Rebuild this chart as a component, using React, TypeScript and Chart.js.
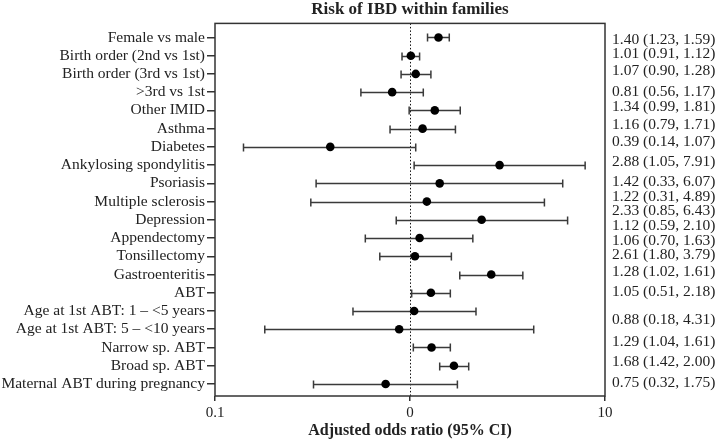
import React, { useEffect, useRef } from "react";
import { Chart, registerables } from "chart.js";

Chart.register(...registerables);

const categories = [
  "Female vs male",
  "Birth order (2nd vs 1st)",
  "Birth order (3rd vs 1st)",
  ">3rd vs 1st",
  "Other IMID",
  "Asthma",
  "Diabetes",
  "Ankylosing spondylitis",
  "Psoriasis",
  "Multiple sclerosis",
  "Depression",
  "Appendectomy",
  "Tonsillectomy",
  "Gastroenteritis",
  "ABT",
  "Age at 1st ABT: 1 \u2013 <5 years",
  "Age at 1st ABT: 5 \u2013 <10 years",
  "Narrow sp. ABT",
  "Broad sp. ABT",
  "Maternal ABT during pregnancy",
];

const oddsRatio = [1.40, 1.01, 1.07, 0.81, 1.34, 1.16, 0.39, 2.88, 1.42, 1.22, 2.33, 1.12, 1.06, 2.61, 1.28, 1.05, 0.88, 1.29, 1.68, 0.75];
const ciLow = [1.23, 0.91, 0.90, 0.56, 0.99, 0.79, 0.14, 1.05, 0.33, 0.31, 0.85, 0.59, 0.70, 1.80, 1.02, 0.51, 0.18, 1.04, 1.42, 0.32];
const ciHigh = [1.59, 1.12, 1.28, 1.17, 1.81, 1.71, 1.07, 7.91, 6.07, 4.89, 6.43, 2.10, 1.63, 3.79, 1.61, 2.18, 4.31, 1.61, 2.00, 1.75];

// row position (in row units) of each annotation text in the right-hand column
const ciTextRow = [0.16, 0.88, 1.86, 2.96, 3.83, 4.82, 5.75, 6.85, 7.94, 8.75, 9.52, 10.35, 11.15, 11.9, 12.85, 13.95, 15.5, 16.7, 17.8, 18.95];

const xTickValues = [0.1, 1, 10];
const xTickLabels = ["0.1", "0", "10"];

const titleText = "Risk of IBD within families";
const xTitleText = "Adjusted odds ratio (95% CI)";

const FONT = "'Liberation Serif', 'Times New Roman', serif";
const INK = "#222";
const LINE = "#333";

const ciText = oddsRatio.map(
  (v, i) => `${v.toFixed(2)} (${ciLow[i].toFixed(2)}, ${ciHigh[i].toFixed(2)})`
);

const forestPlugin = {
  id: "forest",
  beforeDatasetsDraw(chart: any) {
    const { ctx, chartArea, scales } = chart;
    const x = scales.x;
    const y = scales.y;
    ctx.save();
    const x1 = Math.round(x.getPixelForValue(1)) + 0.5;
    ctx.strokeStyle = "#111";
    ctx.lineWidth = 1;
    ctx.setLineDash([1.5, 2]);
    ctx.beginPath();
    ctx.moveTo(x1, chartArea.top);
    ctx.lineTo(x1, chartArea.bottom);
    ctx.stroke();
    ctx.setLineDash([]);
    ctx.strokeStyle = "#3a3a3a";
    ctx.lineWidth = 1.5;
    categories.forEach((_, i) => {
      const py = Math.round(y.getPixelForValue(i)) + 0.5;
      const xl = x.getPixelForValue(ciLow[i]);
      const xh = x.getPixelForValue(ciHigh[i]);
      ctx.beginPath();
      ctx.moveTo(xl, py);
      ctx.lineTo(xh, py);
      ctx.moveTo(xl, py - 4);
      ctx.lineTo(xl, py + 4);
      ctx.moveTo(xh, py - 4);
      ctx.lineTo(xh, py + 4);
      ctx.stroke();
    });
    ctx.restore();
  },
  afterDraw(chart: any) {
    const { ctx, chartArea, scales } = chart;
    const y = scales.y;
    ctx.save();
    ctx.strokeStyle = LINE;
    ctx.lineWidth = 1.5;
    ctx.strokeRect(chartArea.left, chartArea.top, chartArea.right - chartArea.left, chartArea.bottom - chartArea.top);
    ctx.fillStyle = INK;
    ctx.font = `bold 17px ${FONT}`;
    ctx.textAlign = "center";
    ctx.textBaseline = "middle";
    ctx.fillText(titleText, (chartArea.left + chartArea.right) / 2, 10);
    ctx.font = `15.5px ${FONT}`;
    ctx.textAlign = "left";
    ciText.forEach((t, i) => {
      ctx.fillText(t, chartArea.right + 7, y.getPixelForValue(ciTextRow[i]));
    });
    ctx.restore();
  },
};

export default function App() {
  const ref = useRef<HTMLCanvasElement | null>(null);

  useEffect(() => {
    document.body.style.margin = "0";
    const canvas = ref.current;
    if (!canvas) return;
    const chart = new Chart(canvas, {
      type: "scatter",
      data: {
        datasets: [
          {
            data: oddsRatio.map((v, i) => ({ x: v, y: i })),
            pointRadius: 4.3,
            pointHoverRadius: 4.3,
            backgroundColor: "#000",
            borderColor: "#000",
            borderWidth: 0,
          },
        ],
      },
      options: {
        animation: false,
        responsive: false,
        devicePixelRatio: 1,
        layout: { padding: { left: 0, right: 113, top: 23.4, bottom: 0 } },
        plugins: {
          legend: { display: false },
          tooltip: { enabled: false },
          title: { display: false },
        },
        scales: {
          x: {
            type: "logarithmic",
            min: 0.1,
            max: 10,
            afterBuildTicks: (scale: any) => {
              scale.ticks = xTickValues.map((v) => ({ value: v }));
            },
            afterFit: (scale: any) => {
              scale.height = 47;
            },
            ticks: {
              color: INK,
              font: { family: FONT, size: 15 },
              padding: 3,
              autoSkip: false,
              maxRotation: 0,
              callback: (_v: any, idx: number) => xTickLabels[idx],
            },
            grid: {
              drawOnChartArea: false,
              drawTicks: true,
              tickLength: 5,
              color: LINE,
              lineWidth: 1.5,
            },
            border: { display: false },
            title: {
              display: true,
              text: xTitleText,
              color: INK,
              font: { family: FONT, size: 16, weight: "bold" },
              padding: { top: 0, bottom: 3 },
            },
          },
          y: {
            type: "linear",
            reverse: true,
            min: -0.77,
            max: 19.66,
            afterBuildTicks: (scale: any) => {
              scale.ticks = categories.map((_, i) => ({ value: i }));
            },
            afterFit: (scale: any) => {
              scale.width = 215;
            },
            ticks: {
              color: INK,
              font: { family: FONT, size: 15.5 },
              padding: 2,
              autoSkip: false,
              callback: (v: any) => categories[Math.round(Number(v))] ?? "",
            },
            grid: {
              drawOnChartArea: false,
              drawTicks: true,
              tickLength: 8,
              color: LINE,
              lineWidth: 1.5,
            },
            border: { display: false },
          },
        },
      },
      plugins: [forestPlugin],
    });
    return () => chart.destroy();
  }, []);

  return (
    <div style={{ position: "fixed", left: 0, top: 0, width: 718, height: 443, background: "#fff" }}>
      <canvas ref={ref} width={718} height={443} style={{ width: 718, height: 443, display: "block" }} />
    </div>
  );
}
